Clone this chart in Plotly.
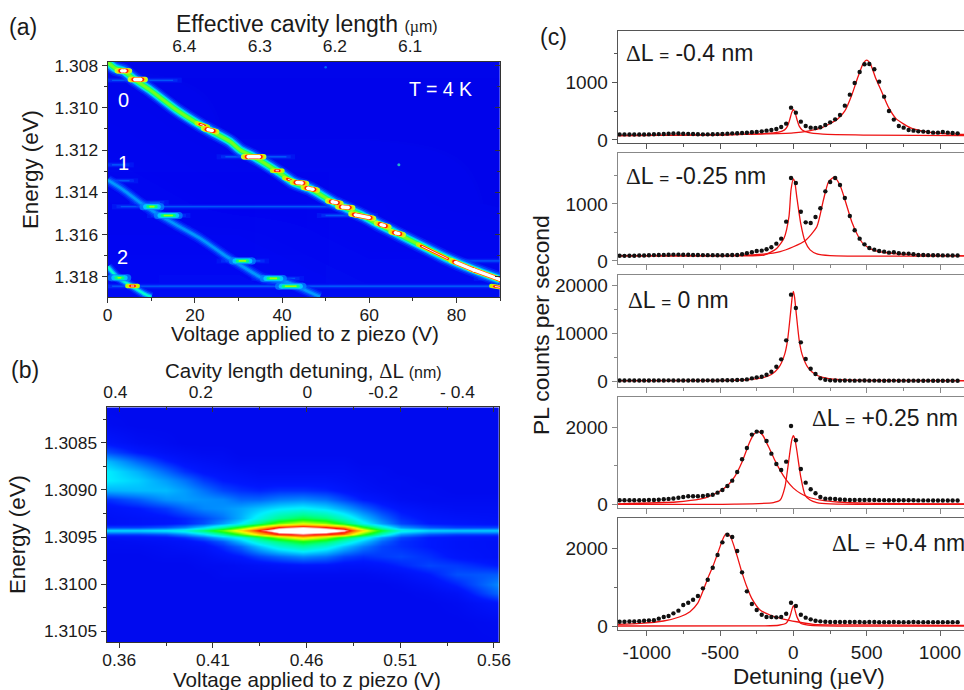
import plotly.graph_objects as go

W, H = 964, 690
FONT = "Liberation Sans, Arial, sans-serif"
INK = "#1a1a1a"

# ---------- panel (a) ----------
a_bg_v = [0, 30, 60, 90]
a_bg_e = [1.3078, 1.3110, 1.3145, 1.3160, 1.3190]
a_bg_z = [
    [.03, .03, .03, .03],
    [.04, .03, .03, .03],
    [.05, .04, .04, .03],
    [.05, .05, .04, .04],
    [.06, .06, .05, .05],
]
ridge0_v = [0, 1.7, 3.6, 6.3, 9.7, 15.8, 21.2, 23.5, 28.1, 30.4, 33.4, 38.8, 42.6, 46.4, 51.8, 54.8, 58.6, 61.7, 66.3, 72.4, 77.8, 82.3, 90]
ridge0_e = [1.30784, 1.30813, 1.30825, 1.30868, 1.30915, 1.3101, 1.31081, 1.31108, 1.3116, 1.3120, 1.31231, 1.31299, 1.31353, 1.31383, 1.31448, 1.31476, 1.31512, 1.31547, 1.31595, 1.31658, 1.31713, 1.31753, 1.31813]
ridge1_v = [0, 3.6, 7.4, 11.2, 15.8, 21.2, 27.3, 31.1, 35.7, 40.7, 45.3, 48.7]
ridge1_e = [1.31342, 1.31389, 1.31448, 1.3150, 1.31555, 1.31618, 1.31705, 1.31753, 1.31808, 1.31824, 1.31863, 1.31895]
ridge2_v = [0, 2.1, 5.5, 8.2, 10]
ridge2_e = [1.31753, 1.3180, 1.31844, 1.31879, 1.31896]
# bright spots on the ridges: (V start, V end, E start, E end)
spots_white = [
    (3.2, 4.0, 1.30825, 1.30825), (6.2, 7.6, 1.30866, 1.30866), (23.0, 24.0, 1.31103, 1.31108),
    (32.2, 34.8, 1.31232, 1.31232), (43.4, 44.6, 1.31354, 1.31356), (45.9, 47.1, 1.31381, 1.31386),
    (51.5, 52.5, 1.31445, 1.31449), (53.8, 55.2, 1.31470, 1.31472), (56.8, 60.0, 1.31507, 1.31520),
    (62.7, 63.5, 1.31553, 1.31558), (66.0, 66.8, 1.31592, 1.31596), (79.8, 84.0, 1.31732, 1.31768), (84.0, 90.0, 1.31768, 1.31813),
]
spots_red = [
    (21.2, 22.2, 1.31078, 1.31085), (38.5, 39.3, 1.31298, 1.31298), (41.3, 42.0, 1.31338, 1.31343),
    (72.0, 78.0, 1.31655, 1.31715), (88.8, 90.0, 1.31846, 1.31850), (5.3, 6.1, 1.31844, 1.31844),
]
spots_green = [
    (9.7, 10.6, 1.31468, 1.31468), (30.2, 31.6, 1.31725, 1.31725), (40.8, 43.2, 1.31845, 1.31845),
    (13.0, 14.8, 1.31510, 1.31510), (37.3, 38.7, 1.31808, 1.31808), (2.4, 3.0, 1.31805, 1.31805),
]
streaks = [
    (1, 15, 1.30870), (1, 5, 1.31345), (1, 4, 1.31270), (27, 41, 1.31232), (7, 12, 1.31448),
    (3, 52, 1.31468), (11, 17, 1.31510), (50, 60, 1.31510), (27, 35, 1.31725), (80, 90, 1.31725),
    (35, 43, 1.31808), (1, 90, 1.31845), (86, 90, 1.31808),
]
a_dots_v = [66.8, 50]
a_dots_e = [1.31270, 1.30808]

# ---------- panel (b) ----------
b_v = [.3533, .37, .385, .395, .405, .415, .425, .435, .445, .458, .47, .48, .49, .50, .51, .525, .54, .5627]
b_e = [1.3081, 1.3083, 1.3085, 1.3086, 1.3087, 1.3088, 1.3089, 1.3090, 1.3091, 1.3092, 1.3093, 1.30935,
       1.3094, 1.30943, 1.30947, 1.3095, 1.30955, 1.3096, 1.3097, 1.3098, 1.3099, 1.3100, 1.3101, 1.3102, 1.3104, 1.3107]
b_z = [
    [.04, .04, .04, .04, .04, .04, .04, .04, .04, .04, .04, .04, .04, .04, .04, .04, .04, .04],
    [.05, .04, .04, .04, .04, .04, .04, .04, .04, .04, .04, .04, .04, .04, .04, .04, .04, .04],
    [.09, .06, .05, .04, .04, .04, .04, .04, .04, .04, .04, .04, .04, .04, .04, .04, .04, .04],
    [.15, .10, .07, .06, .05, .05, .04, .04, .04, .04, .04, .04, .04, .04, .04, .04, .04, .04],
    [.25, .17, .11, .08, .07, .06, .05, .05, .05, .05, .05, .05, .04, .04, .04, .04, .04, .04],
    [.30, .24, .17, .12, .09, .08, .07, .06, .06, .06, .06, .06, .05, .05, .04, .04, .04, .04],
    [.30, .27, .22, .18, .13, .10, .09, .08, .08, .08, .08, .07, .06, .05, .05, .04, .04, .04],
    [.24, .25, .25, .22, .18, .14, .12, .11, .12, .12, .11, .09, .07, .06, .05, .05, .04, .04],
    [.12, .16, .21, .22, .21, .20, .17, .17, .19, .20, .18, .14, .10, .08, .06, .05, .05, .05],
    [.08, .10, .13, .17, .20, .21, .23, .26, .29, .31, .28, .23, .17, .12, .09, .07, .06, .06],
    [.07, .08, .09, .11, .14, .18, .24, .33, .42, .48, .44, .36, .26, .18, .12, .09, .08, .07],
    [.07, .08, .09, .11, .15, .22, .30, .44, .58, .66, .60, .48, .32, .22, .14, .10, .09, .08],
    [.14, .14, .16, .20, .28, .40, .55, .72, .88, .93, .88, .80, .55, .36, .22, .16, .14, .14],
    [.28, .28, .30, .34, .45, .58, .72, .88, 1.0, 1.0, 1.0, .94, .72, .50, .34, .28, .27, .27],
    [.13, .13, .15, .20, .28, .40, .55, .72, .86, .90, .86, .80, .55, .36, .21, .15, .13, .13],
    [.07, .08, .09, .12, .17, .25, .32, .46, .60, .72, .62, .48, .34, .22, .14, .10, .09, .08],
    [.05, .06, .07, .08, .11, .16, .25, .36, .44, .52, .46, .36, .26, .17, .12, .10, .08, .07],
    [.05, .05, .06, .07, .08, .12, .17, .26, .34, .40, .34, .26, .19, .14, .12, .10, .08, .07],
    [.04, .04, .05, .05, .06, .08, .10, .14, .17, .20, .18, .14, .12, .13, .14, .12, .09, .07],
    [.04, .04, .04, .04, .05, .05, .06, .07, .08, .09, .09, .08, .08, .09, .11, .14, .13, .10],
    [.04, .04, .04, .04, .04, .05, .05, .05, .05, .05, .05, .05, .05, .06, .07, .10, .15, .16],
    [.04, .04, .04, .04, .04, .04, .04, .04, .04, .04, .04, .04, .04, .04, .05, .07, .11, .20],
    [.04, .04, .04, .04, .04, .04, .04, .04, .04, .04, .04, .04, .04, .04, .04, .05, .07, .17],
    [.04, .04, .04, .04, .04, .04, .04, .04, .04, .04, .04, .04, .04, .04, .04, .04, .05, .09],
    [.04, .04, .04, .04, .04, .04, .04, .04, .04, .04, .04, .04, .04, .04, .04, .04, .04, .05],
    [.04, .04, .04, .04, .04, .04, .04, .04, .04, .04, .04, .04, .04, .04, .04, .04, .04, .04],
]

# ---------- panel (c) ----------
c_x = [-1185, -1152, -1118, -1085, -1051, -1018, -985, -951, -918, -884, -851, -818, -784, -751, -717, -684, -651, -617,
       -584, -550, -517, -484, -450, -417, -383, -350, -317, -283, -250, -216, -183, -150, -116, -83, -49, -16,
       17, 51, 84, 118, 151, 184, 218, 251, 285, 318, 351, 385, 418, 452, 485, 518, 552, 585, 619, 652, 685, 719,
       752, 786, 819, 852, 886, 919, 953, 986, 1019, 1053, 1086, 1120]
d1 = [97, 97, 96, 96, 95, 96, 97, 100, 102, 104, 108, 112, 112, 108, 106, 104, 100, 98, 98, 100, 102, 105, 110, 115, 118, 122, 125, 135, 140, 150,
      162, 173, 190, 225, 283, 560, 474, 318, 243, 214, 208, 220, 260, 306, 358, 433, 595, 786, 988, 1179, 1312, 1318, 1225, 1011, 751, 503, 353, 243,
      214, 173, 162, 150, 145, 139, 127, 127, 139, 127, 120, 115]
d2 = [92, 90, 92, 92, 95, 97, 100, 103, 105, 107, 110, 112, 112, 110, 108, 106, 104, 103, 102, 102, 100, 100, 102, 104, 105, 117, 135, 152, 175, 181,
      205, 240, 304, 392, 690, 1456, 1368, 865, 678, 667, 772, 924, 1222, 1386, 1456, 1333, 1105, 789, 538, 392, 292, 228, 199, 175, 164, 146, 152, 135,
      129, 129, 117, 105, 105, 102, 100, 100, 98, 98, 97, 97]
d3 = [260, 250, 270, 260, 250, 240, 260, 250, 270, 260, 280, 260, 270, 250, 260, 270, 260, 250, 280, 260, 270, 290, 300, 310, 350, 380,
      480, 690, 900, 1030, 1450, 2070, 3100, 4620, 8550, 18000, 15240, 8140, 4690, 2690, 1590, 690, 410, 280, 240, 230, 240, 230, 220, 230, 240, 220,
      230, 220, 210, 220, 230, 210, 220, 210, 220, 200, 210, 220, 200, 210, 200, 210, 200, 210]
d4 = [104, 104, 105, 106, 106, 108, 110, 112, 120, 130, 140, 150, 170, 190, 208, 208, 208, 216, 234, 250, 303, 372, 476, 615, 840, 1170, 1463, 1810, 1888, 1880,
      1645, 1316, 1048, 892, 1108, 2035, 1662, 918, 563, 390, 286, 190, 147, 147, 139, 125, 118, 112, 112, 112, 110, 110, 112, 108, 108, 106, 106, 105,
      104, 104, 104, 102, 102, 102, 100, 100, 100, 98, 98, 98]
d5 = [112, 112, 115, 120, 125, 135, 146, 150, 190, 233, 259, 328, 397, 543, 603, 681, 776, 974, 1198, 1508, 1836, 2164, 2362, 2302, 1940, 1388, 897, 569, 414, 293,
      233, 233, 224, 233, 319, 603, 517, 293, 216, 172, 138, 121, 110, 105, 104, 103, 103, 102, 104, 102, 100, 102, 104, 100, 100, 100, 102, 100,
      100, 100, 102, 100, 100, 100, 100, 100, 100, 100, 100, 100]

f1a_x = [-1198, -600, -300, -200, -100, -60, -40, -25, -12, 0, 12, 25, 40, 60, 100, 200, 500, 1164]
f1a_y = [75, 85, 100, 110, 135, 175, 240, 350, 470, 530, 470, 350, 240, 175, 130, 100, 85, 75]
f1b_x = [-1198, -500, 0, 100, 200, 300, 350, 400, 440, 475, 500, 525, 560, 600, 650, 700, 800, 900, 1000, 1164]
f1b_y = [75, 90, 125, 155, 220, 360, 500, 790, 1090, 1320, 1385, 1320, 1080, 850, 560, 370, 210, 145, 115, 95]
f2a_x = [-1198, -400, -200, -114, -64, -30, -16, 0, 10, 23, 50, 80, 114, 160, 250, 1164]
f2a_y = [88, 92, 105, 220, 400, 780, 1250, 1440, 1380, 1130, 660, 340, 195, 125, 95, 90]
f2b_x = [-1198, -400, -205, -90, 0, 80, 160, 205, 240, 278, 318, 351, 398, 443, 477, 545, 705, 1164]
f2b_y = [88, 98, 120, 165, 250, 355, 600, 1070, 1390, 1470, 1330, 1080, 690, 430, 300, 190, 125, 90]
f3_x = [-1198, -500, -300, -200, -150, -100, -60, -40, -20, -8, 0, 8, 20, 40, 60, 100, 150, 200, 300, 500, 1164]
f3_y = [200, 250, 450, 900, 1500, 2900, 5600, 8500, 14000, 17500, 18700, 17500, 14000, 8500, 5600, 2900, 1500, 900, 450, 250, 200]
f4a_x = [-1198, -800, -700, -600, -520, -450, -400, -350, -300, -270, -240, -210, -170, -130, -90, -50, 0, 50, 100, 200, 300, 500, 1164]
f4a_y = [10, 60, 100, 170, 300, 480, 720, 1100, 1600, 1820, 1890, 1800, 1500, 1170, 880, 640, 420, 280, 190, 100, 60, 30, 10]
f4b_x = [-1198, -400, -136, -90, -57, -34, -11, 0, 10, 23, 50, 80, 114, 160, 250, 1164]
f4b_y = [2, 5, 45, 110, 460, 1065, 1670, 1785, 1700, 1410, 720, 240, 110, 45, 10, 2]
f5a_x = [-1198, -1045, -886, -773, -705, -652, -618, -584, -550, -516, -482, -461, -432, -386, -352, -318, -284, -227, -159, -68, 23, 136, 400, 1164]
f5a_y = [45, 70, 130, 240, 370, 590, 890, 1230, 1530, 1880, 2240, 2380, 2330, 1840, 1400, 1020, 715, 414, 285, 180, 110, 45, 30, 15]
f5b_x = [-1198, -200, -100, -50, -25, 0, 25, 50, 100, 200, 1164]
f5b_y = [0, 5, 20, 70, 230, 530, 230, 70, 25, 5, 0]

dots = [d1, d2, d3, d4, d5]
fits = [
    [(f1a_x, f1a_y), (f1b_x, f1b_y)],
    [(f2a_x, f2a_y), (f2b_x, f2b_y)],
    [(f3_x, f3_y)],
    [(f4a_x, f4a_y), (f4b_x, f4b_y)],
    [(f5a_x, f5a_y), (f5b_x, f5b_y)],
]

# ---------- geometry ----------
def PX(p): return p / W
def PY(p): return 1 - p / H
def dx(a, b): return [PX(a), min(PX(b), 1)]
def dy(top, bot): return [PY(bot), PY(top)]

scale = [[0, "#0000e4"], [.1, "#0018ff"], [.2, "#0088ff"], [.3, "#00f0ff"], [.42, "#00ff90"], [.52, "#10ff10"],
         [.68, "#ffff00"], [.8, "#ff8000"], [.88, "#ff0000"], [.93, "#ffffff"], [1, "#ffffff"]]

fig = go.Figure()
fig.add_trace(go.Heatmap(x=a_bg_v, y=a_bg_e, z=a_bg_z, colorscale=scale, zmin=0, zmax=1, zsmooth="best",
                         showscale=False, hoverinfo="skip", xaxis="x", yaxis="y"))

def line_a(xs, ys, w, c, op=1.0, spline=True, rounded=False):
    fig.add_trace(go.Scatter(x=xs, y=ys, mode="lines+markers" if rounded else "lines", xaxis="x", yaxis="y", showlegend=False, hoverinfo="skip",
                             opacity=op, marker=dict(size=w, color=c, line=dict(width=0)),
                             line=dict(width=w, color=c, shape="spline" if spline else "linear", smoothing=.7)))

def seg_lists(segs, grow=0.0):
    xs, ys = [], []
    for s in segs:
        slope = (s[3] - s[2]) / (s[1] - s[0])
        xs += [s[0] - grow, s[1] + grow, None]
        ys += [s[2] - grow * slope, s[3] + grow * slope, None]
    return xs, ys

def spot_stack(segs, levels):
    for grow, w, c, op in levels:
        xs, ys = seg_lists(segs, grow)
        line_a(xs, ys, w, c, op, False, True)

# faint horizontal streaks, tapered at the ends
for grow, w, c, op in [(2.0, 5, "#0040ff", .25), (1.0, 3, "#0060ff", .3), (0.0, 1.4, "#0098ff", .4)]:
    xs, ys = [], []
    for s in streaks:
        xs += [s[0] - grow, s[1] + grow, None]
        ys += [s[2], s[2], None]
    line_a(xs, ys, w, c, op, False)

# mode ridges, wide glow to narrow core
for xs, ys, levels in [
    (ridge2_v, ridge2_e, [(10, "#0040ff", .5), (7, "#0070ff", .7), (4.5, "#00b8ff", .9), (2.2, "#00ffd0", 1)]),
    (ridge1_v, ridge1_e, [(11, "#0030ff", .5), (8, "#0050ff", .6), (5, "#0090ff", .55), (2.5, "#00c8ff", .5)]),
    (ridge0_v, ridge0_e, [(15, "#0038ff", .5), (12, "#0060ff", .7), (9, "#00a0ff", 1), (7, "#00e8f0", 1), (5.2, "#10ff70", 1), (3, "#70ff20", 1)]),
]:
    for w, c, op in levels:
        line_a(xs, ys, w, c, op)

spot_stack(spots_green, [(1.6, 7, "#0080ff", .8), (1.0, 5, "#00d0ff", .9), (.5, 3.2, "#00ff80", 1), (0, 1.6, "#a0ff00", 1)])
spot_stack(spots_red, [(.8, 4.4, "#b0ff00", 1), (.4, 3.4, "#ffd000", 1), (.1, 2.4, "#ff2000", 1), (-.1, .9, "#ffffff", 1)])
spot_stack(spots_white, [(1.0, 5.4, "#c0ff20", 1), (.6, 4.8, "#ffd000", 1), (.3, 4.2, "#ff2000", 1), (0, 3.4, "#ffffff", 1)])

fig.add_trace(go.Scatter(x=a_dots_v, y=a_dots_e, mode="markers", xaxis="x", yaxis="y", showlegend=False, hoverinfo="skip",
                         marker=dict(size=[3, 2.5], color=["#30ffc0", "#0090ff"], line=dict(width=0))))

fig.add_trace(go.Heatmap(x=b_v, y=b_e, z=b_z, colorscale=scale, zmin=0, zmax=1, zsmooth="best",
                         showscale=False, hoverinfo="skip", xaxis="x3", yaxis="y3"))

# invisible anchors so that the overlaid tick-only axes get drawn
for xa, ya, px, py in [("x2", "y", [0, 90], [1.31, 1.31]), ("x", "y2", [0, 90], [1.31, 1.31]),
                       ("x4", "y3", [.4, .5], [1.309, 1.309]), ("x5", "y3", [.4, .5], [1.309, 1.309])]:
    fig.add_trace(go.Scatter(x=px, y=py, mode="markers", marker=dict(size=1, opacity=0), xaxis=xa, yaxis=ya, showlegend=False, hoverinfo="skip"))

c_ids = ["6", "7", "8", "9", "10"]
for i, cid in enumerate(c_ids):
    for fx, fy in fits[i]:
        fig.add_trace(go.Scatter(x=fx, y=fy, mode="lines", xaxis="x" + cid, yaxis="y" + cid, showlegend=False, hoverinfo="skip",
                                 line=dict(width=1.3, color="#ee1111", shape="spline", smoothing=.6)))
    fig.add_trace(go.Scatter(x=c_x, y=dots[i], mode="markers", xaxis="x" + cid, yaxis="y" + cid, showlegend=False, hoverinfo="skip",
                             marker=dict(size=4.4, color="#111111")))

tick17 = dict(family=FONT, size=17.4, color=INK)
tick19 = dict(family=FONT, size=19, color=INK)
AX = "#333333"
layout = dict(width=W, height=H, margin=dict(l=0, r=0, t=0, b=0, autoexpand=False), paper_bgcolor="white", plot_bgcolor="white",
              showlegend=False, font=dict(family=FONT, color=INK))

# panel a axes
arange_x = [0, 90]
arange_y = [1.31896, 1.30783]
layout["xaxis"] = dict(domain=dx(107.7, 500), range=arange_x, anchor="y", tickvals=[0, 20, 40, 60, 80], ticks="outside", ticklen=5,
                       tickcolor=AX, linecolor=AX, linewidth=1.2, showline=True, showgrid=False, zeroline=False, tickfont=tick17, ticklabelstandoff=-3,
                       minor=dict(tickvals=[10, 30, 50, 70, 90], ticks="outside", ticklen=3, tickcolor=AX, showgrid=False))
layout["yaxis"] = dict(domain=dy(62, 297), range=arange_y, anchor="x", tickvals=[1.308, 1.310, 1.312, 1.314, 1.316, 1.318], ticktext=["1.308", "1.310", "1.312", "1.314", "1.316", "1.318"],
                       ticks="outside", ticklen=5, tickcolor=AX, linecolor=AX, linewidth=1.2, showline=True, showgrid=False, zeroline=False, tickfont=tick17,
                       minor=dict(tickvals=[1.309, 1.311, 1.313, 1.315, 1.317], ticks="outside", ticklen=3, tickcolor=AX, showgrid=False))
layout["xaxis2"] = dict(domain=dx(107.7, 500), range=arange_x, anchor="y", overlaying="x", side="top", tickvals=[17.6, 34.9, 52.1, 69.4], ticktext=["6.4", "6.3", "6.2", "6.1"],
                        ticks="", linecolor=AX, linewidth=1.2, showline=True, showgrid=False, zeroline=False, tickfont=tick17, ticklabelstandoff=2)
layout["yaxis2"] = dict(domain=dy(62, 297), range=arange_y, anchor="x", overlaying="y", side="right", tickvals=[1.308, 1.310, 1.312, 1.314, 1.316, 1.318],
                        ticks="inside", ticklen=5, tickcolor=AX, linecolor=AX, linewidth=1.2, showline=True, showgrid=False, zeroline=False, showticklabels=False,
                        minor=dict(tickvals=[1.309, 1.311, 1.313, 1.315, 1.317], ticks="inside", ticklen=3, tickcolor=AX, showgrid=False))

# panel b axes
brange_x = [.3533, .5627]
brange_y = [1.310613, 1.308125]
bmaj = [.36, .41, .46, .51, .56]
bmin = [.385, .435, .485, .535]
layout["xaxis3"] = dict(domain=dx(106.7, 499), range=brange_x, anchor="y3", tickvals=bmaj, ticktext=["0.36", "0.41", "0.46", "0.51", "0.56"], ticks="outside", ticklen=5,
                        tickcolor=AX, linecolor=AX, linewidth=1.2, showline=True, showgrid=False, zeroline=False, tickfont=tick17, ticklabelstandoff=-3,
                        minor=dict(tickvals=bmin, ticks="outside", ticklen=3, tickcolor=AX, showgrid=False))
layout["yaxis3"] = dict(domain=dy(407.3, 642), range=brange_y, anchor="x3", tickvals=[1.3085, 1.3090, 1.3095, 1.3100, 1.3105], ticktext=["1.3085", "1.3090", "1.3095", "1.3100", "1.3105"],
                        ticks="outside", ticklen=5, tickcolor=AX, linecolor=AX, linewidth=1.2, showline=True, mirror=True, showgrid=False, zeroline=False, tickfont=tick17,
                        minor=dict(tickvals=[1.30825, 1.30875, 1.30925, 1.30975, 1.31025], ticks="outside", ticklen=3, tickcolor=AX, showgrid=False))
layout["xaxis4"] = dict(domain=dx(106.7, 499), range=brange_x, anchor="y3", overlaying="x3", side="top", tickvals=[.3579, .4035, .4604, .5009, .5405],
                        ticktext=["0.4", "0.2", "0", "-0.2", "- 0.4"], ticks="", showline=False, showgrid=False, zeroline=False, tickfont=tick17, ticklabelstandoff=5)
layout["xaxis5"] = dict(domain=dx(106.7, 499), range=brange_x, anchor="y3", overlaying="x3", side="top", tickvals=bmaj, ticks="inside", ticklen=5, tickcolor=AX,
                        linecolor=AX, linewidth=1.2, showline=True, showgrid=False, zeroline=False, showticklabels=False,
                        minor=dict(tickvals=bmin, ticks="inside", ticklen=3, tickcolor=AX, showgrid=False))

# panel c axes
c_boxes = [(30.7, 142.7), (152.7, 264), (275, 386.7), (396.7, 508), (518.3, 630)]
c_yr = [(-47, 1894), (-53, 1900), (-1034, 22068), (-96, 2795), (-103, 2786)]
c_maj = [[0, 1000], [0, 1000], [0, 10000, 20000], [0, 2000], [0, 2000]]
c_min = [[500, 1500], [500, 1500], [5000, 15000], [1000], [1000]]
c_lines = ["#555555", "#888888", "#888888", "#888888", "#666666"]
for i, cid in enumerate(c_ids):
    last = i == 4
    lc = c_lines[i]
    layout["xaxis" + cid] = dict(domain=dx(617.7, W), range=[-1198, 1163.6], anchor="y" + cid, tickvals=[-1000, -500, 0, 500, 1000],
                                 ticktext=["-1000", "-500", "0", "500", "1000"], ticks="outside", ticklen=5, tickcolor=lc, linecolor=lc, linewidth=1.2,
                                 showline=True, mirror=True, showgrid=False, zeroline=False, showticklabels=last, tickfont=tick19,
                                 minor=dict(tickvals=[-750, -250, 250, 750], ticks="outside", ticklen=3, tickcolor=lc, showgrid=False))
    layout["yaxis" + cid] = dict(domain=dy(*c_boxes[i]), range=list(c_yr[i]), anchor="x" + cid, tickvals=c_maj[i], ticktext=[str(v) for v in c_maj[i]],
                                 ticks="outside", ticklen=5, tickcolor=lc, linecolor=lc, linewidth=1.2, showline=True, showgrid=False, zeroline=False, tickfont=tick19,
                                 minor=dict(tickvals=c_min[i], ticks="outside", ticklen=3, tickcolor=lc, showgrid=False))

def note(px, py, text, size=20, color=INK, xanchor="center", angle=0):
    return dict(x=PX(px), y=PY(py), xref="paper", yref="paper", text=text, showarrow=False, xanchor=xanchor, yanchor="middle",
                font=dict(family=FONT, size=size, color=color), textangle=angle, align="left", borderpad=0, xshift=0)

DELTA = '<span style="font-family:Liberation Serif;font-weight:normal">\u0394</span>'
MU = '<span style="font-family:Liberation Serif">\u00b5</span>'
small_eq = '<span style="font-size:17px">=</span>'
layout["annotations"] = [
    note(8, 27, "(a)", 23, xanchor="left"),
    note(10, 370, "(b)", 23, xanchor="left"),
    note(539, 37, "(c)", 23, xanchor="left"),
    note(307, 24, 'Effective cavity length <span style="font-size:16px">(' + MU + 'm)</span>', 23),
    note(304.5, 333, "Voltage applied to z piezo (V)", 20.6),
    note(30, 170, "Energy (eV)", 22.3, angle=-90),
    note(440, 89, "T = 4 K", 19.5, color="white"),
    note(124, 100, "0", 20, color="white"),
    note(124, 163, "1", 20, color="white"),
    note(122, 257, "2", 20, color="white"),
    note(303, 370, 'Cavity length detuning, ' + DELTA + 'L <span style="font-size:16px">(nm)</span>', 20.5),
    note(306.5, 679, "Voltage applied to z piezo (V)", 20.6),
    note(17, 535, "Energy (eV)", 22.3, angle=-90),
    note(541, 325, "PL counts per second", 22.8, angle=-90),
    note(809, 676, "Detuning (" + MU + "eV)", 22.5),
    note(625, 53, DELTA + "L " + small_eq + " -0.4 nm", 23, xanchor="left"),
    note(625, 176, DELTA + "L " + small_eq + " -0.25 nm", 23, xanchor="left"),
    note(627, 300, DELTA + "L " + small_eq + " 0 nm", 23, xanchor="left"),
    note(811, 418, DELTA + "L " + small_eq + " +0.25 nm", 23, xanchor="left"),
    note(831, 543, DELTA + "L " + small_eq + " +0.4 nm", 23, xanchor="left"),
]

fig.update_layout(**layout)
fig.write_html("out.html", config={"displayModeBar": False}, post_script="document.body.style.margin='0';")
